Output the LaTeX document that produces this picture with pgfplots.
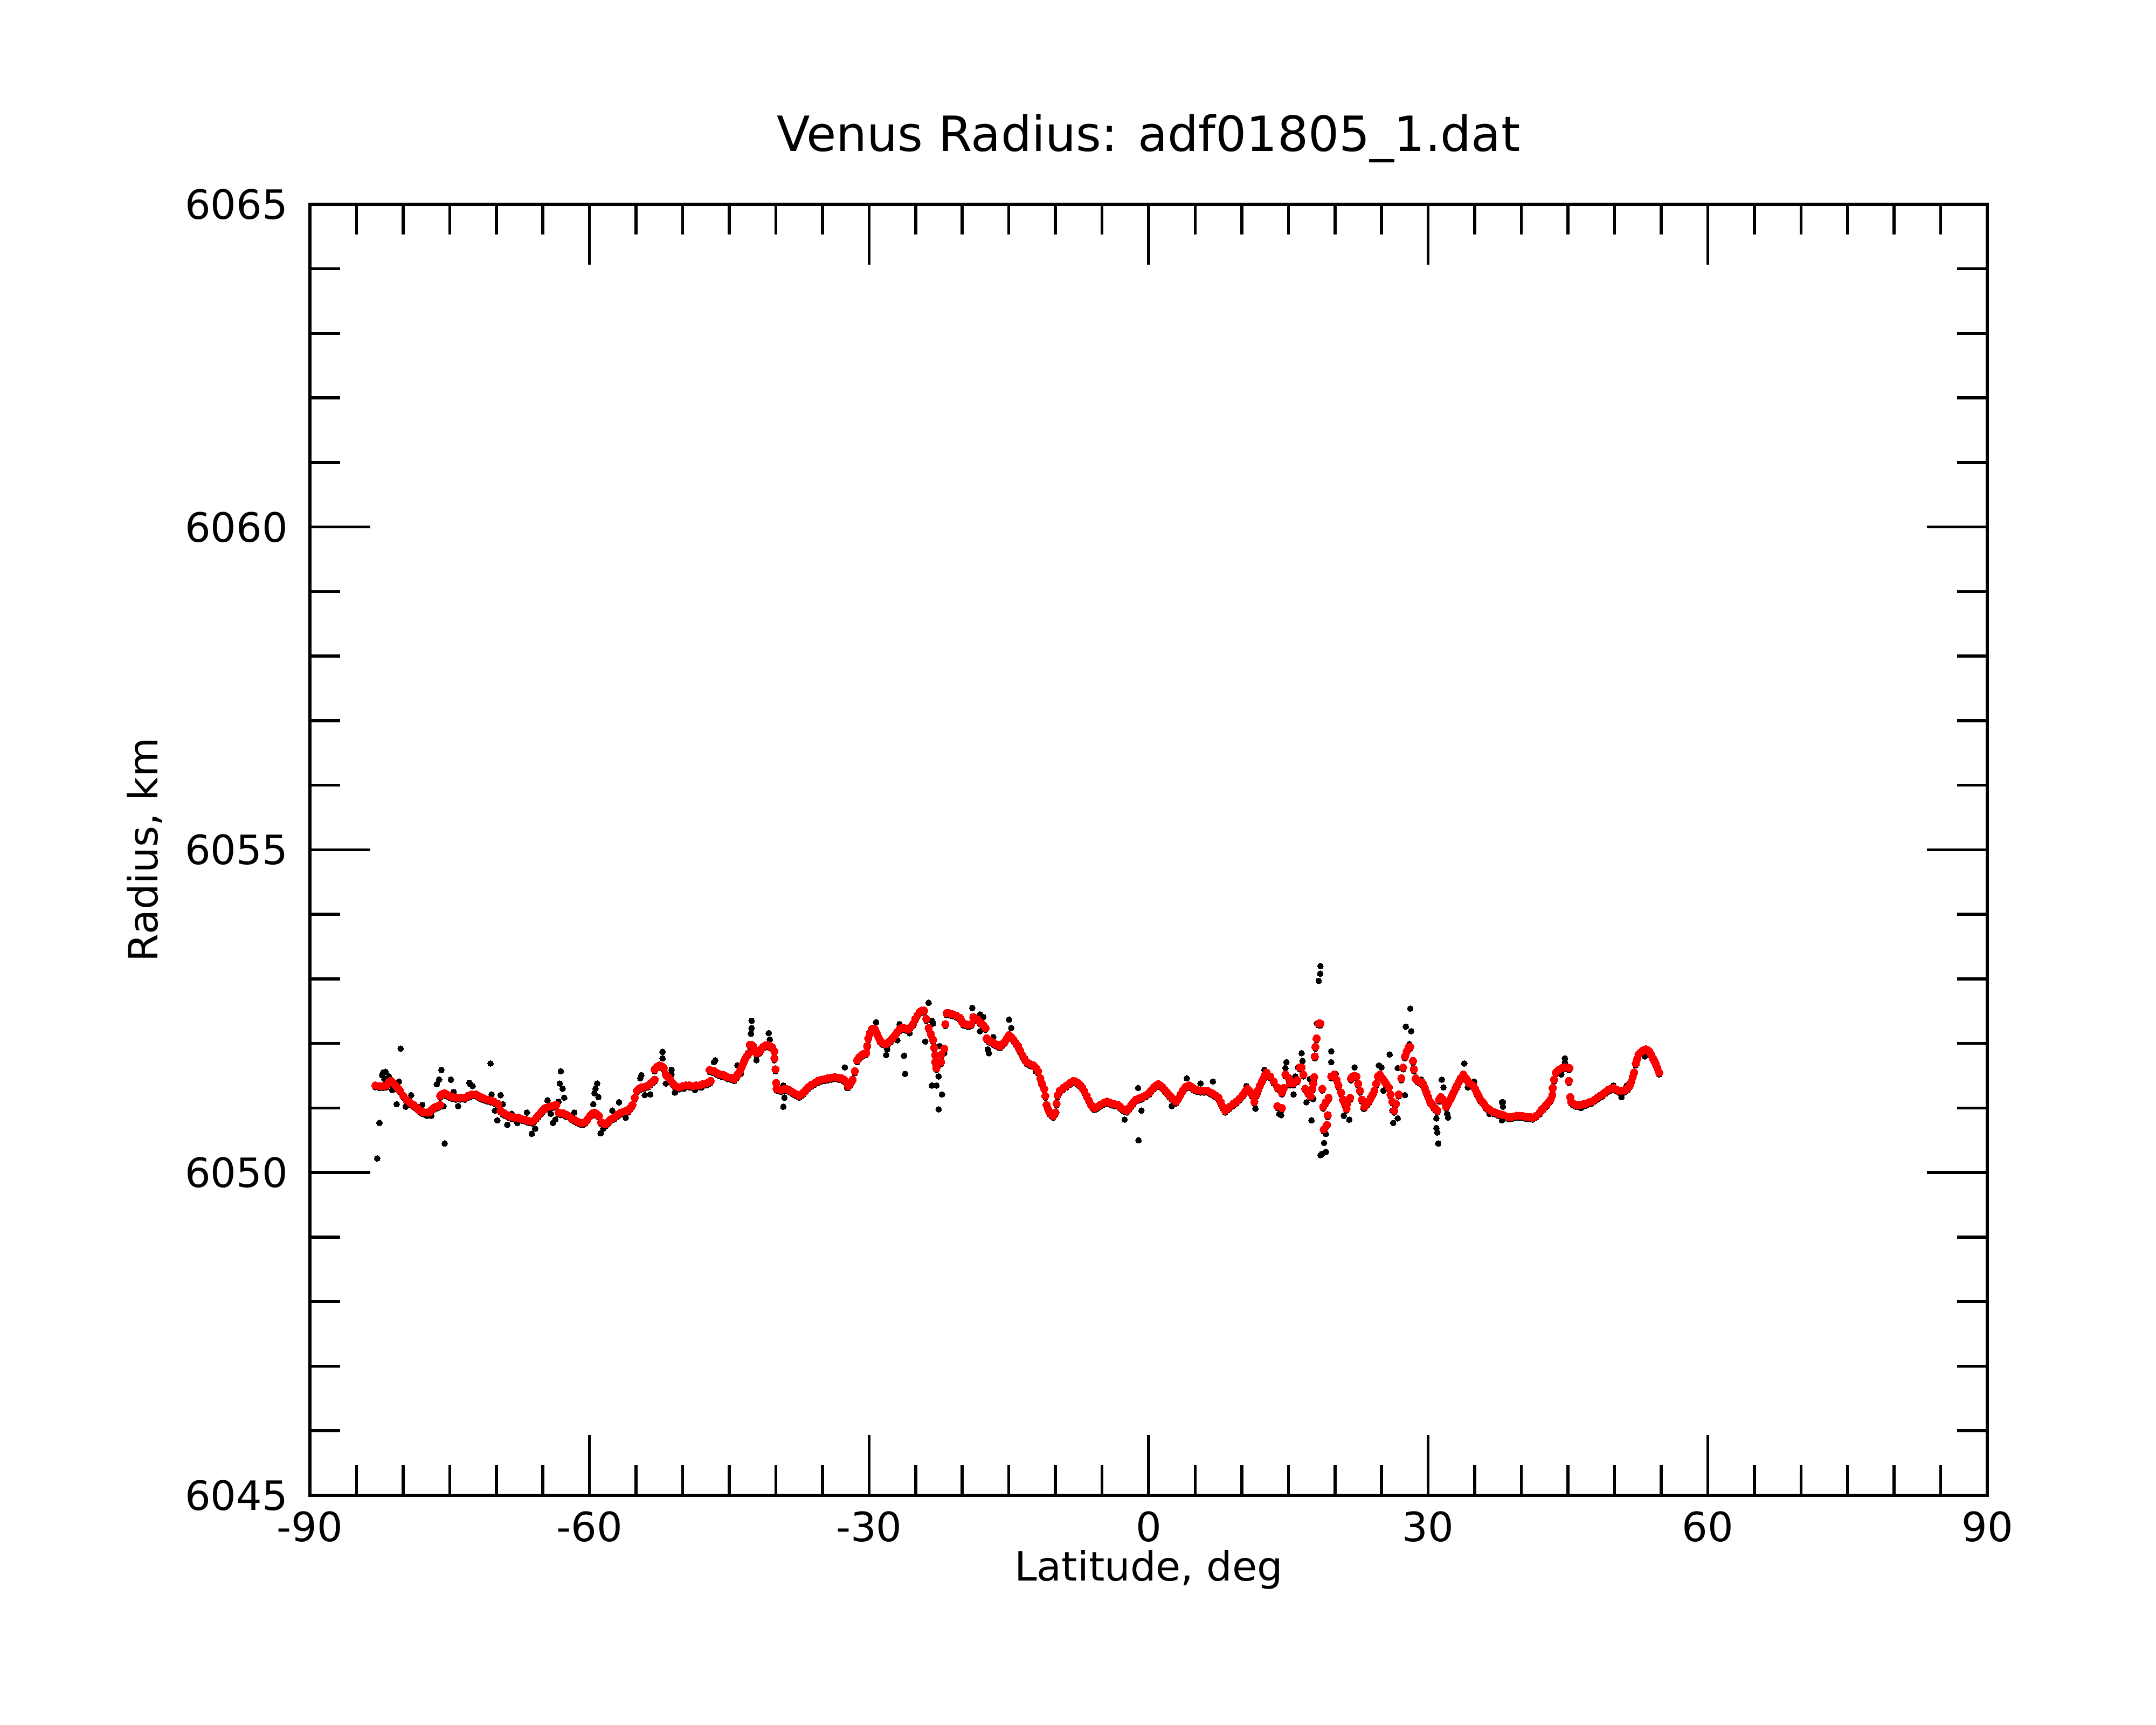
\documentclass[border=0pt]{standalone}
\usepackage{fontspec}
\setmainfont{DejaVu Sans}
\usepackage{pgfplots}
\pgfplotsset{compat=1.18}
\usepackage{pgfplotstable}

\pgfplotstableread{
x y
-82.97 6051.35
-82.49 6051.34
-82.13 6051.34
-81.77 6051.35
-81.53 6051.40
-81.29 6051.42
-81.05 6051.39
-80.81 6051.35
-80.57 6051.31
-80.33 6051.27
-79.97 6051.19
-79.61 6051.12
-79.37 6051.10
-79.13 6051.07
-78.89 6051.05
-78.65 6051.02
-78.41 6050.99
-78.17 6050.96
-77.94 6050.94
-77.70 6050.93
-77.46 6050.93
-77.22 6050.93
-76.98 6050.97
-76.74 6051.00
-76.50 6051.02
-76.26 6051.03
-76.02 6051.05
-76.02 6051.19
-75.78 6051.22
-75.54 6051.23
-75.30 6051.21
-75.06 6051.19
-74.70 6051.17
-74.34 6051.16
-73.86 6051.16
-73.38 6051.16
-73.02 6051.19
-72.66 6051.21
-72.18 6051.21
-71.94 6051.19
-71.70 6051.17
-71.34 6051.15
-70.98 6051.13
-70.62 6051.12
-70.26 6051.10
-69.78 6051.06
-69.54 6050.96
-69.30 6050.93
-69.06 6050.91
-68.70 6050.88
-68.34 6050.86
-67.98 6050.85
-67.62 6050.85
-67.26 6050.83
-66.90 6050.82
-66.55 6050.80
-66.19 6050.79
-65.95 6050.81
-65.71 6050.85
-65.47 6050.89
-65.23 6050.93
-64.99 6050.97
-64.75 6051.00
-64.39 6051.02
-64.03 6051.03
-63.79 6051.04
-63.55 6051.05
-63.31 6050.93
-63.07 6050.92
-62.83 6050.92
-62.59 6050.90
-62.35 6050.89
-61.99 6050.85
-61.63 6050.82
-61.27 6050.79
-60.91 6050.77
-60.67 6050.77
-60.43 6050.79
-60.19 6050.83
-59.95 6050.88
-59.71 6050.91
-59.47 6050.93
-59.23 6050.91
-58.99 6050.88
-58.75 6050.78
-58.51 6050.76
-58.27 6050.75
-58.03 6050.78
-57.79 6050.82
-57.55 6050.84
-57.31 6050.86
-56.95 6050.90
-56.59 6050.93
-56.23 6050.95
-55.87 6050.96
-55.63 6051.00
-55.39 6051.05
-55.15 6051.16
-54.91 6051.27
-54.67 6051.30
-54.43 6051.32
-54.07 6051.33
-53.72 6051.35
-53.48 6051.38
-53.24 6051.41
-53.00 6051.44
-53.00 6051.60
-52.76 6051.64
-52.52 6051.66
-52.28 6051.65
-52.04 6051.62
-51.80 6051.52
-51.56 6051.48
-51.32 6051.44
-51.08 6051.39
-50.84 6051.35
-50.60 6051.33
-50.36 6051.32
-50.00 6051.34
-49.64 6051.35
-49.28 6051.35
-48.92 6051.34
-48.56 6051.35
-48.20 6051.35
-47.84 6051.37
-47.48 6051.38
-47.24 6051.40
-47.00 6051.42
-47.11 6051.59
-46.87 6051.58
-46.63 6051.57
-46.39 6051.55
-46.15 6051.53
-45.91 6051.52
-45.67 6051.51
-45.43 6051.50
-45.19 6051.48
-44.83 6051.47
-44.47 6051.45
-44.23 6051.49
-44.05 6051.53
-43.87 6051.57
-43.69 6051.63
-43.51 6051.69
-43.33 6051.75
-43.15 6051.80
-42.91 6051.85
-42.79 6051.98
-42.62 6051.98
-42.44 6051.96
-42.26 6051.90
-42.08 6051.85
-41.90 6051.86
-41.72 6051.88
-41.54 6051.92
-41.36 6051.95
-41.12 6051.97
-40.88 6051.98
-40.64 6051.96
-40.40 6051.94
-40.16 6051.88
-40.16 6051.77
-40.04 6051.60
-39.97 6051.39
-39.92 6051.30
-39.68 6051.29
-39.44 6051.28
-39.20 6051.29
-38.96 6051.30
-38.72 6051.29
-38.48 6051.27
-38.24 6051.25
-38.00 6051.23
-37.76 6051.21
-37.52 6051.19
-37.28 6051.21
-37.04 6051.24
-36.80 6051.28
-36.56 6051.32
-36.20 6051.36
-35.84 6051.39
-35.48 6051.42
-35.12 6051.44
-34.76 6051.45
-34.40 6051.46
-34.04 6051.47
-33.68 6051.48
-33.32 6051.47
-32.96 6051.46
-32.72 6051.44
-32.48 6051.41
-32.24 6051.34
-32.00 6051.38
-31.76 6051.44
-31.52 6051.57
-31.28 6051.74
-31.04 6051.79
-30.80 6051.82
-30.56 6051.84
-30.33 6051.85
-30.20 6051.96
-30.08 6052.08
-29.90 6052.16
-29.72 6052.22
-29.54 6052.23
-29.36 6052.22
-29.18 6052.16
-29.00 6052.10
-28.82 6052.05
-28.65 6052.02
-28.41 6052.00
-28.17 6051.99
-27.93 6052.02
-27.69 6052.05
-27.45 6052.09
-27.21 6052.13
-26.97 6052.18
-26.73 6052.22
-26.49 6052.24
-26.25 6052.24
-26.01 6052.23
-25.77 6052.22
-25.53 6052.26
-25.29 6052.30
-25.05 6052.38
-24.81 6052.44
-24.57 6052.49
-24.33 6052.51
-24.09 6052.51
-23.85 6052.38
-23.61 6052.24
-23.37 6052.15
-23.13 6052.06
-23.01 6051.94
-22.89 6051.82
-22.89 6051.71
-22.77 6051.62
-22.29 6051.71
-22.29 6051.82
-21.93 6051.92
-21.81 6052.30
-21.69 6052.47
-21.45 6052.47
-21.21 6052.46
-20.97 6052.45
-20.61 6052.43
-20.25 6052.40
-20.07 6052.35
-19.89 6052.31
-19.65 6052.30
-19.41 6052.29
-19.23 6052.29
-19.05 6052.30
-18.81 6052.41
-18.57 6052.39
-18.33 6052.37
-18.09 6052.33
-17.85 6052.30
-17.68 6052.27
-17.50 6052.24
-17.38 6052.08
-17.14 6052.05
-16.90 6052.03
-16.66 6052.01
-16.42 6051.99
-16.18 6051.97
-15.94 6051.96
-15.70 6051.99
-15.46 6052.02
-15.22 6052.08
-14.98 6052.13
-14.74 6052.10
-14.50 6052.06
-14.26 6052.01
-14.02 6051.96
-13.78 6051.89
-13.54 6051.82
-13.30 6051.76
-13.06 6051.71
-12.70 6051.68
-12.34 6051.66
-12.10 6051.62
-11.86 6051.57
-11.62 6051.46
-11.44 6051.38
-11.20 6051.30
-11.08 6051.19
-10.96 6051.05
-10.78 6050.98
-10.60 6050.93
-10.42 6050.90
-10.24 6050.88
-10.00 6050.93
-9.88 6051.07
-9.76 6051.20
-9.52 6051.27
-9.16 6051.31
-8.80 6051.35
-8.44 6051.39
-8.08 6051.42
-7.84 6051.41
-7.60 6051.39
-7.37 6051.36
-7.13 6051.32
-6.89 6051.26
-6.65 6051.19
-6.41 6051.12
-6.17 6051.05
-5.99 6051.02
-5.81 6051.00
-5.51 6051.02
-5.21 6051.05
-4.85 6051.08
-4.49 6051.10
-4.25 6051.09
-4.01 6051.07
-3.65 6051.06
-3.29 6051.05
-3.05 6051.02
-2.81 6050.99
-2.57 6050.97
-2.33 6050.96
-2.09 6051.00
-1.85 6051.05
-1.61 6051.09
-1.37 6051.13
-1.01 6051.15
-0.65 6051.17
-0.29 6051.20
0.07 6051.24
0.31 6051.28
0.55 6051.32
0.79 6051.35
1.03 6051.37
1.27 6051.35
1.51 6051.32
1.75 6051.28
1.99 6051.24
2.23 6051.20
2.47 6051.16
2.71 6051.13
2.95 6051.10
3.19 6051.15
3.43 6051.21
3.67 6051.27
3.91 6051.32
4.15 6051.34
4.39 6051.35
4.62 6051.33
4.86 6051.30
5.22 6051.28
5.58 6051.27
5.94 6051.27
6.30 6051.27
6.66 6051.24
7.02 6051.21
7.26 6051.19
7.50 6051.16
7.74 6051.09
7.98 6051.02
8.22 6050.96
8.46 6050.99
8.70 6051.02
9.06 6051.06
9.42 6051.10
9.78 6051.15
10.14 6051.21
10.38 6051.26
10.62 6051.30
10.86 6051.26
11.10 6051.21
11.34 6051.10
11.58 6051.21
11.76 6051.28
11.94 6051.35
12.18 6051.42
12.42 6051.49
12.66 6051.55
13.05 6051.49
13.43 6051.41
13.82 6051.32
14.49 6051.31
14.30 6051.24
13.82 6051.03
14.30 6051.00
14.68 6051.52
15.07 6051.46
15.17 6051.38
15.55 6051.38
15.94 6051.43
16.23 6051.63
16.42 6051.63
16.61 6051.52
16.81 6051.30
17.09 6051.24
17.38 6051.18
17.58 6051.30
17.67 6051.38
17.77 6051.48
17.83 6051.80
17.90 6051.95
18.02 6052.08
18.25 6052.31
18.44 6052.31
18.64 6051.30
18.73 6051.02
19.02 6051.09
19.31 6051.16
19.22 6050.89
19.12 6050.74
18.79 6050.67
19.60 6051.49
19.89 6051.52
20.18 6051.44
20.37 6051.35
20.66 6051.24
20.85 6051.13
21.05 6051.07
21.24 6050.99
21.34 6051.07
21.63 6051.16
21.72 6051.46
21.91 6051.49
22.10 6051.50
22.30 6051.49
22.49 6051.38
22.69 6051.27
22.88 6051.13
23.17 6051.02
23.46 6051.07
23.65 6051.11
23.84 6051.16
24.03 6051.21
24.23 6051.27
24.42 6051.38
24.61 6051.49
24.81 6051.52
25.10 6051.46
25.29 6051.42
25.48 6051.38
25.77 6051.32
25.96 6051.21
26.16 6051.10
26.35 6050.96
26.54 6051.07
26.83 6051.21
27.12 6051.46
27.31 6051.63
27.51 6051.80
27.70 6051.88
27.89 6051.94
28.08 6051.95
28.37 6051.73
28.47 6051.60
28.66 6051.46
28.85 6051.43
29.05 6051.41
29.24 6051.40
29.43 6051.38
29.63 6051.31
29.82 6051.24
30.01 6051.17
30.20 6051.10
30.40 6051.06
30.59 6051.02
30.78 6050.99
30.98 6050.96
31.17 6051.13
31.36 6051.17
31.55 6051.14
31.75 6051.10
31.94 6051.02
32.13 6051.07
32.33 6051.13
32.52 6051.18
32.71 6051.24
32.91 6051.30
33.10 6051.35
33.29 6051.41
33.48 6051.46
33.77 6051.52
34.06 6051.46
34.25 6051.42
34.45 6051.38
34.83 6051.35
35.03 6051.30
35.22 6051.24
35.41 6051.19
35.60 6051.13
35.80 6051.10
35.99 6051.07
36.19 6051.02
36.37 6051.00
36.66 6050.97
36.95 6050.94
37.24 6050.93
37.53 6050.91
37.82 6050.90
38.11 6050.89
38.59 6050.86
38.88 6050.86
39.17 6050.87
39.46 6050.88
39.75 6050.88
40.04 6050.88
40.33 6050.87
40.62 6050.86
40.91 6050.86
41.20 6050.85
41.58 6050.88
41.97 6050.93
42.16 6050.97
42.36 6051.00
42.55 6051.03
42.74 6051.06
42.94 6051.10
43.13 6051.13
43.32 6051.20
43.36 6051.31
43.51 6051.44
43.70 6051.55
43.90 6051.58
44.09 6051.60
44.38 6051.62
44.67 6051.63
44.91 6051.63
45.15 6051.62
45.09 6051.42
45.25 6051.17
45.34 6051.10
45.58 6051.07
45.83 6051.05
46.11 6051.05
46.40 6051.05
46.69 6051.06
46.98 6051.07
47.27 6051.09
47.56 6051.10
47.85 6051.13
48.14 6051.16
48.43 6051.19
48.72 6051.21
49.01 6051.25
49.30 6051.28
49.58 6051.30
49.87 6051.31
50.16 6051.29
50.45 6051.27
50.74 6051.27
51.03 6051.27
51.22 6051.29
51.42 6051.31
51.61 6051.35
51.80 6051.41
51.95 6051.48
52.09 6051.55
52.28 6051.69
52.43 6051.76
52.57 6051.83
52.77 6051.86
52.96 6051.88
53.15 6051.90
53.35 6051.91
53.54 6051.90
53.73 6051.88
53.93 6051.83
54.12 6051.77
54.27 6051.73
54.41 6051.69
54.60 6051.62
54.79 6051.55
}\redcurve

\pgfplotstableread{
x y
-80.26 6051.92
-82.54 6050.77
-82.78 6050.22
-82.13 6051.55
-81.89 6051.56
-82.25 6051.51
-82.01 6051.45
-81.53 6051.49
-81.17 6051.28
-80.45 6051.41
-80.69 6051.06
-79.73 6051.02
-79.13 6051.20
-77.94 6051.05
-77.46 6050.88
-76.98 6050.88
-75.90 6051.59
-76.14 6051.44
-76.38 6051.37
-74.87 6051.44
-74.58 6051.25
-74.10 6051.03
-75.54 6050.45
-75.66 6051.03
-72.90 6051.39
-72.54 6051.34
-72.78 6051.37
-70.62 6051.69
-70.50 6051.21
-69.54 6051.20
-69.30 6051.06
-70.14 6050.96
-69.90 6050.81
-68.82 6050.74
-68.34 6050.91
-67.74 6050.77
-66.71 6050.93
-66.19 6050.60
-65.83 6050.68
-64.51 6051.12
-64.15 6050.91
-63.91 6050.77
-63.67 6050.82
-63.07 6051.57
-63.19 6051.38
-62.88 6051.30
-62.71 6051.16
-63.31 6051.10
-61.63 6050.93
-59.18 6051.38
-59.35 6051.30
-59.04 6051.17
-59.59 6051.06
-59.47 6051.23
-58.80 6050.61
-58.51 6050.68
-56.83 6051.09
-57.55 6050.96
-56.11 6050.85
-54.43 6051.51
-54.55 6051.46
-54.07 6051.20
-53.48 6051.21
-52.16 6051.87
-52.16 6051.77
-51.20 6051.59
-51.20 6051.52
-51.80 6051.38
-50.84 6051.24
-49.88 6051.30
-48.68 6051.28
-47.96 6051.32
-46.64 6051.71
-46.51 6051.74
-44.11 6051.66
-43.75 6051.53
-42.60 6052.35
-42.60 6052.24
-42.67 6052.15
-40.76 6052.16
-40.64 6052.06
-42.08 6051.74
-39.20 6051.35
-39.08 6051.16
-39.20 6051.02
-37.52 6051.19
-32.60 6051.63
-32.36 6051.31
-29.25 6052.33
-28.17 6051.82
-28.05 6051.91
-26.97 6052.05
-26.73 6052.30
-25.65 6052.16
-26.25 6051.81
-26.13 6051.53
-23.61 6052.63
-23.97 6052.03
-23.25 6052.35
-23.13 6052.31
-23.25 6051.35
-22.77 6051.35
-22.53 6051.49
-22.17 6051.21
-22.53 6050.98
-21.93 6051.85
-22.41 6051.96
-18.93 6052.55
-18.09 6052.45
-17.74 6052.41
-18.09 6052.19
-17.14 6051.85
-16.66 6052.10
-17.26 6051.91
-14.98 6052.37
-14.74 6052.24
-12.10 6051.57
-12.82 6051.66
-1.13 6051.31
-1.08 6050.50
-2.57 6050.82
-0.77 6050.96
2.47 6051.03
4.10 6051.46
5.58 6051.38
6.90 6051.41
12.42 6051.59
11.46 6050.99
10.50 6051.34
14.22 6050.89
18.44 6053.20
18.41 6053.08
18.25 6052.97
18.06 6052.31
16.42 6051.85
16.52 6051.73
14.78 6051.71
14.68 6051.62
16.03 6051.63
15.74 6051.49
15.55 6051.21
17.29 6051.45
17.67 6051.14
16.94 6051.09
17.48 6050.81
14.01 6050.91
19.60 6051.88
19.60 6051.71
20.08 6051.53
20.95 6050.88
21.53 6050.82
22.11 6051.63
23.07 6050.99
24.71 6051.66
25.00 6051.63
25.87 6051.83
26.73 6051.62
26.16 6050.96
26.25 6050.77
26.73 6050.84
27.51 6051.20
25.19 6051.27
28.08 6052.54
27.60 6052.26
28.18 6052.19
27.99 6051.99
30.88 6050.84
30.88 6050.69
30.98 6050.62
31.07 6050.45
31.46 6051.44
31.65 6051.32
32.04 6050.91
32.13 6050.85
33.87 6051.69
34.25 6051.32
34.93 6051.41
37.92 6051.09
37.92 6050.81
36.57 6050.91
19.02 6050.60
18.83 6050.46
18.44 6050.27
19.02 6050.32
18.60 6050.29
29.24 6051.44
38.02 6051.09
38.02 6051.02
44.67 6051.77
44.67 6051.71
44.28 6051.52
46.40 6051.00
49.87 6051.35
51.32 6051.35
53.25 6051.80
50.74 6051.17
}\blackpts

\begin{document}
\begin{tikzpicture}
\path[use as bounding box] (-57.5bp,-42.6bp) rectangle (342.5bp,277.4bp);
\begin{axis}[
  at={(0,0)}, anchor=south west,
  scale only axis, width=311.2bp, height=239.5bp,
  xmin=-90, xmax=90, ymin=6045, ymax=6065,
  xtick={-90,-60,-30,0,30,60,90},
  xticklabels={-90,-60,-30,0,30,60,90},
  ytick={6045,6050,6055,6060,6065},
  yticklabels={6045,6050,6055,6060,6065},
  minor x tick num=5, minor y tick num=4,
  tick align=inside,
  major tick length=11.2bp, minor tick length=5.6bp,
  every tick/.style={black, line width=0.55bp},
  axis line style={line width=0.55bp},
  ticklabel style={font=\fontsize{7.5bp}{9bp}\selectfont, inner sep=0pt},
  xticklabel style={anchor=north, yshift=-2.8bp},
  yticklabel style={anchor=east, xshift=-3.9bp},
  every axis title shift=0pt,
  title={Venus Radius: adf01805\_1.dat},
  title style={at={(0.5,1)}, anchor=base, yshift=9.8bp, inner sep=0pt, font=\fontsize{9bp}{11bp}\selectfont},
  xlabel={Latitude, deg},
  ylabel={Radius, km},
  xlabel style={at={(0.5,0)}, anchor=base, yshift=-15.8bp, inner sep=0pt, font=\fontsize{7.5bp}{9bp}\selectfont},
  ylabel style={at={(-0.0909,0.5)}, anchor=base, inner sep=0pt, font=\fontsize{7.5bp}{9bp}\selectfont},
]
\addplot[black, only marks, mark=*, mark size=0.55bp, mark options={draw=black, fill=black, line width=0pt}, yshift=-0.35bp] table {\redcurve};
\addplot[black, only marks, mark=*, mark size=0.55bp, mark options={draw=black, fill=black, line width=0pt}] table {\blackpts};
\addplot[red, only marks, mark=*, mark size=0.7bp, mark options={draw=red, fill=red, line width=0pt}] table {\redcurve};
\end{axis}
\end{tikzpicture}
\end{document}
